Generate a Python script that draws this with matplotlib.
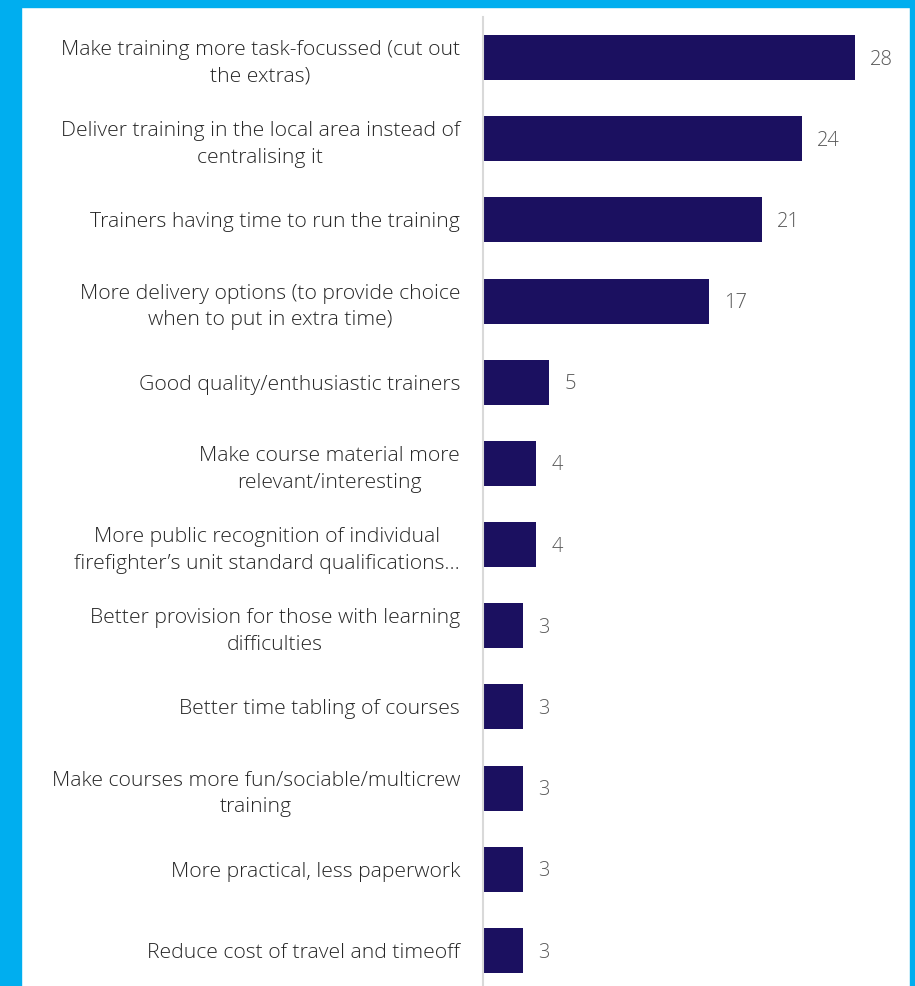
import matplotlib.pyplot as plt
from matplotlib.patches import Rectangle

# Data
labels = [
    "Make training more task-focussed (cut out\nthe extras)",
    "Deliver training in the local area instead of\ncentralising it",
    "Trainers having time to run the training",
    "More delivery options (to provide choice\nwhen to put in extra time)",
    "Good quality/enthusiastic trainers",
    "Make course material more\nrelevant/interesting",
    "More public recognition of individual\nfirefighter\u2019s unit standard qualifications\u2026",
    "Better provision for those with learning\ndifficulties",
    "Better time tabling of courses",
    "Make courses more fun/sociable/multicrew\ntraining",
    "More practical, less paperwork",
    "Reduce cost of travel and timeoff",
]
values = [28, 24, 21, 17, 5, 4, 4, 3, 3, 3, 3, 3]

plt.rcParams['font.family'] = ['Open Sans', 'DejaVu Sans']

W, H = 915, 986
fig = plt.figure(figsize=(W / 100, H / 100), dpi=100)
fig.patch.set_facecolor('white')

# light blue frame (left, top, right)
frame_col = '#00AEEF'
fig.patches.append(Rectangle((0, 0), 21 / W, 1, transform=fig.transFigure, color=frame_col, zorder=0))
fig.patches.append(Rectangle((0, 1 - 7 / H), 1, 7 / H, transform=fig.transFigure, color=frame_col, zorder=0))
fig.patches.append(Rectangle((1 - 5 / W, 0), 5 / W, 1, transform=fig.transFigure, color=frame_col, zorder=0))

# axes placed so that x=0 sits at 483px, x=28 at 855px
ax_left = 483 / W
ax_width = (855 - 483) / W
ax_top = 17 / H
ax_bottom = 991 / H
ax = fig.add_axes([ax_left, 1 - ax_bottom, ax_width, ax_bottom - ax_top])

y = list(range(len(values)))
ax.barh(y, values, height=0.555, color='#1B1060', zorder=2)
ax.set_xlim(0, 28)
ax.set_ylim(len(values) - 0.5, -0.5)

for yi, v in zip(y, values):
    ax.annotate(str(v), (v, yi), xytext=(11, -1.5), textcoords='offset points',
                va='center', ha='left', fontsize=14.5, color='#595959',
                fontweight='light', annotation_clip=False)

ax.set_yticks(y)
ax.set_yticklabels(labels, fontsize=15.2, color='#262626', fontweight='light',
                   multialignment='center', linespacing=1.45)
ax.tick_params(axis='y', length=0, pad=16.5)
ax.set_xticks([])

for s in ['top', 'right', 'bottom']:
    ax.spines[s].set_visible(False)
ax.spines['left'].set_color('#D9D9D9')
ax.spines['left'].set_linewidth(1.5)
ax.set_facecolor('none')

fig.savefig('out.png', dpi=100, facecolor='white')
